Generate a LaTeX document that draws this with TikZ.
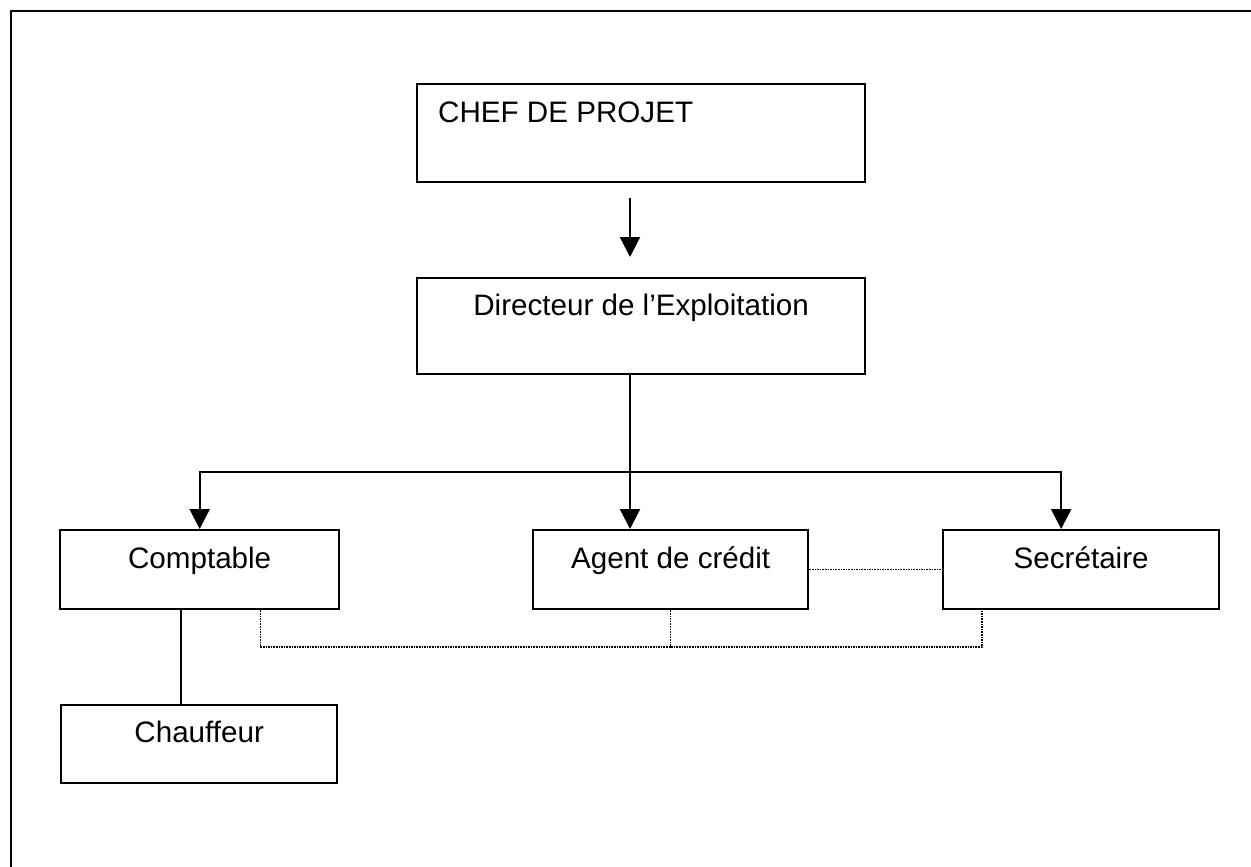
\documentclass[tikz,border=0pt]{standalone}
\usepackage{fontspec}
\setmainfont{Liberation Sans}
\usetikzlibrary{arrows.meta,calc}
\begin{document}
\begin{tikzpicture}[x=1pt,y=-1pt,
  box/.style={draw=black,line width=2.3pt,minimum width=#1,inner sep=0pt,anchor=north west},
  lbl/.style={font=\fontsize{29.6}{34}\selectfont,inner sep=0pt},
  link/.style={line width=2.2pt},
  arr/.style={line width=2.2pt,-{Triangle[width=20pt,length=20pt]}},
  dots/.style={line width=1.6pt,densely dotted}]
\useasboundingbox (0,0) rectangle (1251,867);
\fill[white] (0,0) rectangle (1251,867);
% outer frame (only top and left visible)
\coordinate (fbl) at (11,867);
\coordinate (ftl) at (11,11);
\coordinate (ftr) at (1251,11);
\draw[line width=2.8pt] (fbl) -- (ftl) -- (ftr);
% boxes
\node[box=448pt,minimum height=98pt] (chef) at (416,83) {};
\node[box=448pt,minimum height=96pt] (dir) at (416,277) {};
\node[box=279pt,minimum height=79pt] (comp) at (59,529) {};
\node[box=275pt,minimum height=79pt] (agent) at (532,529) {};
\node[box=276pt,minimum height=79pt] (sec) at (942,529) {};
\node[box=276pt,minimum height=78pt] (chauf) at (60,704) {};
% labels
\node[lbl,anchor=base west] (tchef) at ($(chef.north west)+(22,39)$) {CHEF DE PROJET};
\node[lbl,anchor=base] (tdir) at ($(dir.north)+(0,38)$) {Directeur de l’Exploitation};
\node[lbl,anchor=base] (tcomp) at ($(comp.north)+(0,39)$) {Comptable};
\node[lbl,anchor=base] (tagent) at ($(agent.north)+(0,39)$) {Agent de crédit};
\node[lbl,anchor=base] (tsec) at ($(sec.north)+(0,39)$) {Secrétaire};
\node[lbl,anchor=base] (tchauf) at ($(chauf.north)+(0,38)$) {Chauffeur};
% connectors
\coordinate (a1) at (630,198);
\coordinate (a2) at (630,257);
\draw[arr] (a1) -- (a2);
\coordinate (trunk) at (630,472);
\draw[arr] (dir.south -| trunk) -- (agent.north -| trunk);
\draw[arr] (trunk) -| (comp.north);
\coordinate (secin) at ($(sec.north)+(-20,0)$);
\draw[arr] (trunk) -| (secin);
\coordinate (cc) at ($(comp.south)+(-19,0)$);
\draw[link] (cc) -- (chauf.north -| cc);
\draw[dots] (agent.east) -- (sec.west);
\coordinate (bus) at (670,647);
\draw[dots] ($(comp.south)+(61,0)$) |- (bus) -| ($(sec.south)+(-99,0)$);
\draw[dots] (agent.south) -- (agent.south |- bus);
\end{tikzpicture}
\end{document}
